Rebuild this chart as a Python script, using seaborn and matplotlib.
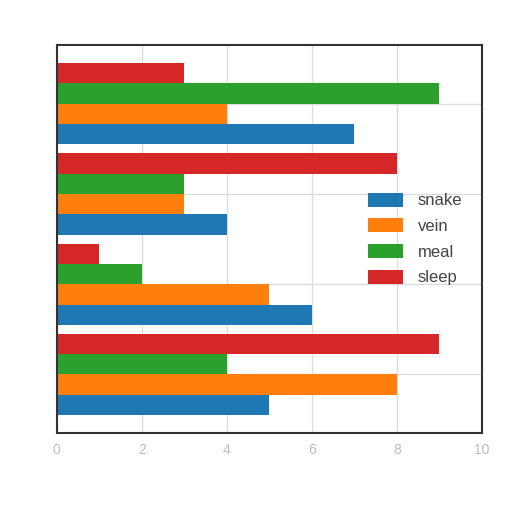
import matplotlib
matplotlib.use("Agg")
import matplotlib.pyplot as plt
import seaborn as sns
import pandas as pd

groups = ["g0", "g1", "g2", "g3"]          # bottom to top
series = ["snake", "vein", "meal", "sleep"]
snake = [5, 6, 4, 7]
vein = [8, 5, 3, 4]
meal = [4, 2, 3, 9]
sleep = [9, 1, 8, 3]
xticks = [0, 2, 4, 6, 8, 10]
colors = ["#1f77b4", "#ff7f0e", "#2ca02c", "#d62728"]

rows = []
for s, vals in zip(series, [snake, vein, meal, sleep]):
    for g, v in zip(groups, vals):
        rows.append({"group": g, "series": s, "value": v})
df = pd.DataFrame(rows)

sns.set_style("whitegrid")
plt.rcParams["font.family"] = ["Liberation Sans", "DejaVu Sans"]
fig = plt.figure(figsize=(5.12, 5.12), dpi=100)
ax = fig.add_axes([0.111, 0.154, 0.830, 0.758])

sns.barplot(data=df, x="value", y="group", hue="series", order=groups,
            hue_order=series, palette=colors, orient="h", width=0.9,
            saturation=1, ax=ax, errorbar=None, linewidth=0)

ax.set_ylim(-0.65, 3.65)
ax.set_xlim(0, 10)
ax.set_xticks(xticks)
ax.set_xticklabels([str(t) for t in xticks], color="#bbbbbb")
ax.set_yticklabels([])
ax.set_xlabel("")
ax.set_ylabel("")
ax.tick_params(axis="y", length=0)
ax.grid(True, color="#dddddd", linewidth=1)
for sp in ax.spines.values():
    sp.set_color("#333333")
    sp.set_linewidth(1.5)

leg = ax.legend(loc="center right", frameon=False, fontsize=12,
                handlelength=2.1, handleheight=0.9, labelspacing=0.6,
                handletextpad=0.9, bbox_to_anchor=(0.99, 0.5))
for t in leg.get_texts():
    t.set_color("#444444")

fig.savefig("out.png", dpi=100)
